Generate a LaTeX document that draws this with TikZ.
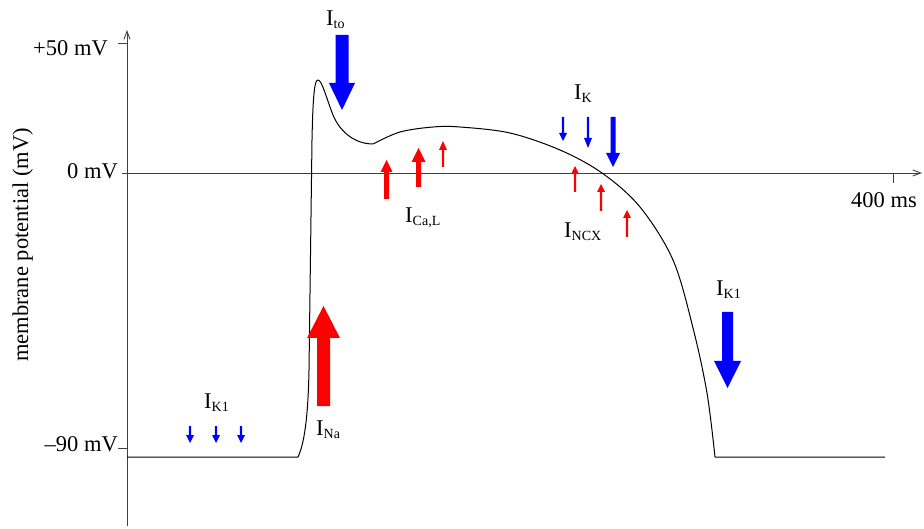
\documentclass[tikz,border=0pt]{standalone}
\usepackage{fontspec}
\setmainfont{Liberation Serif}
\usetikzlibrary{arrows.meta}
\newcommand{\cur}[1]{I\raisebox{-3pt}{\fontsize{14}{14}\selectfont #1}}
\newcommand{\blockarrow}[7]{%
  \fill[#1] (#2-#6,#3) -- (#2+#6,#3) -- (#2+#6,#4) -- (#2+#7,#4) -- (#2,#5) -- (#2-#7,#4) -- (#2-#6,#4) -- cycle;}
\definecolor{ablue}{RGB}{0,0,255}
\definecolor{ared}{RGB}{255,0,0}
\tikzset{
  axis/.style={draw=black!75, line width=0.9pt},
  apcurve/.style={draw=black, line width=1pt, line join=round},
  lbl/.style={inner sep=0pt, font=\fontsize{22.5}{27}\selectfont},
  cl/.style={lbl, anchor=base west},
}
\begin{document}
\begin{tikzpicture}[x=1pt, y=-1pt]
\useasboundingbox (0,0) rectangle (924,529);
% axes
\coordinate (ybot) at (127,526);
\coordinate (ytop) at (127,30);
\coordinate (xl) at (122,173);
\coordinate (xr) at (922,173);
\draw[axis, -{Straight Barb[length=8pt,width=6pt]}] (ybot) -- (ytop);
\draw[axis, -{Straight Barb[length=8pt,width=6pt]}] (xl) -- (xr);
\draw[axis] (118,43) -- (127,43);
\draw[axis] (118,448) -- (127,448);
\draw[axis] (893,173) -- (893,183);
% axis labels
\node[lbl, anchor=base east] (p50) at (108,56) {+50 mV};
\node[lbl, anchor=base east] (z0) at (118,179) {0 mV};
\node[lbl, anchor=base east] (m90) at (118,451) {–90 mV};
\node[lbl, anchor=base west] (t400) at (851,208) {400 ms};
\node[lbl, anchor=base west, rotate=90] (ylab) at (28,362) {membrane potential (mV)};
% action potential
\draw[apcurve] (127,457) -- (298,457)
  .. controls (304,444) and (308,420) .. (309,370)
  -- (312,140)
  .. controls (313,90) and (315,80) .. (318,80)
  .. controls (322,80) and (327,100) .. (333,115)
  .. controls (340,132) and (355,144) .. (373,144)
  -- plot[smooth, tension=0.55] coordinates {(373,144) (400,132) (433,127) (460,127) (510,133) (560,150) (602,173) (640,207) (673,260) (693,328) (707,393) (715,457)}
  -- (885,457);
% current arrows
\blockarrow{ablue}{342}{35}{83}{110}{6.5}{13}
\blockarrow{ared}{323.5}{406}{338}{306}{6.5}{16.5}
\blockarrow{ablue}{727.5}{312}{361}{388}{5.5}{13.5}
\blockarrow{ared}{386.5}{199}{172}{160}{2.5}{6}
\blockarrow{ared}{418.5}{187}{162}{148}{2.5}{7}
\blockarrow{ared}{443}{167}{150}{141}{1.2}{4}
\blockarrow{ablue}{563}{117}{133}{141}{1.2}{4}
\blockarrow{ablue}{588}{117}{138}{148}{1.2}{4}
\blockarrow{ablue}{613}{117}{153}{167}{2.5}{7}
\blockarrow{ared}{575}{192}{174}{166}{1.2}{4}
\blockarrow{ared}{601}{211}{192}{184}{1.2}{4}
\blockarrow{ared}{627}{237}{218}{210}{1.2}{4}
\blockarrow{ablue}{190}{426}{435}{443}{1.2}{4}
\blockarrow{ablue}{216}{426}{435}{443}{1.2}{4}
\blockarrow{ablue}{241}{426}{435}{443}{1.2}{4}
% current labels
\node[cl] (Ito) at (326,26) {\cur{to}};
\node[cl] (IK) at (574,100) {\cur{K}};
\node[cl] (ICaL) at (405,223) {\cur{Ca,L}};
\node[cl] (INCX) at (564,238) {\cur{NCX}};
\node[cl] (IK1r) at (716,296) {\cur{K1}};
\node[cl] (IK1l) at (204,408) {\cur{K1}};
\node[cl] (INa) at (316,435) {\cur{Na}};
\end{tikzpicture}
\end{document}
